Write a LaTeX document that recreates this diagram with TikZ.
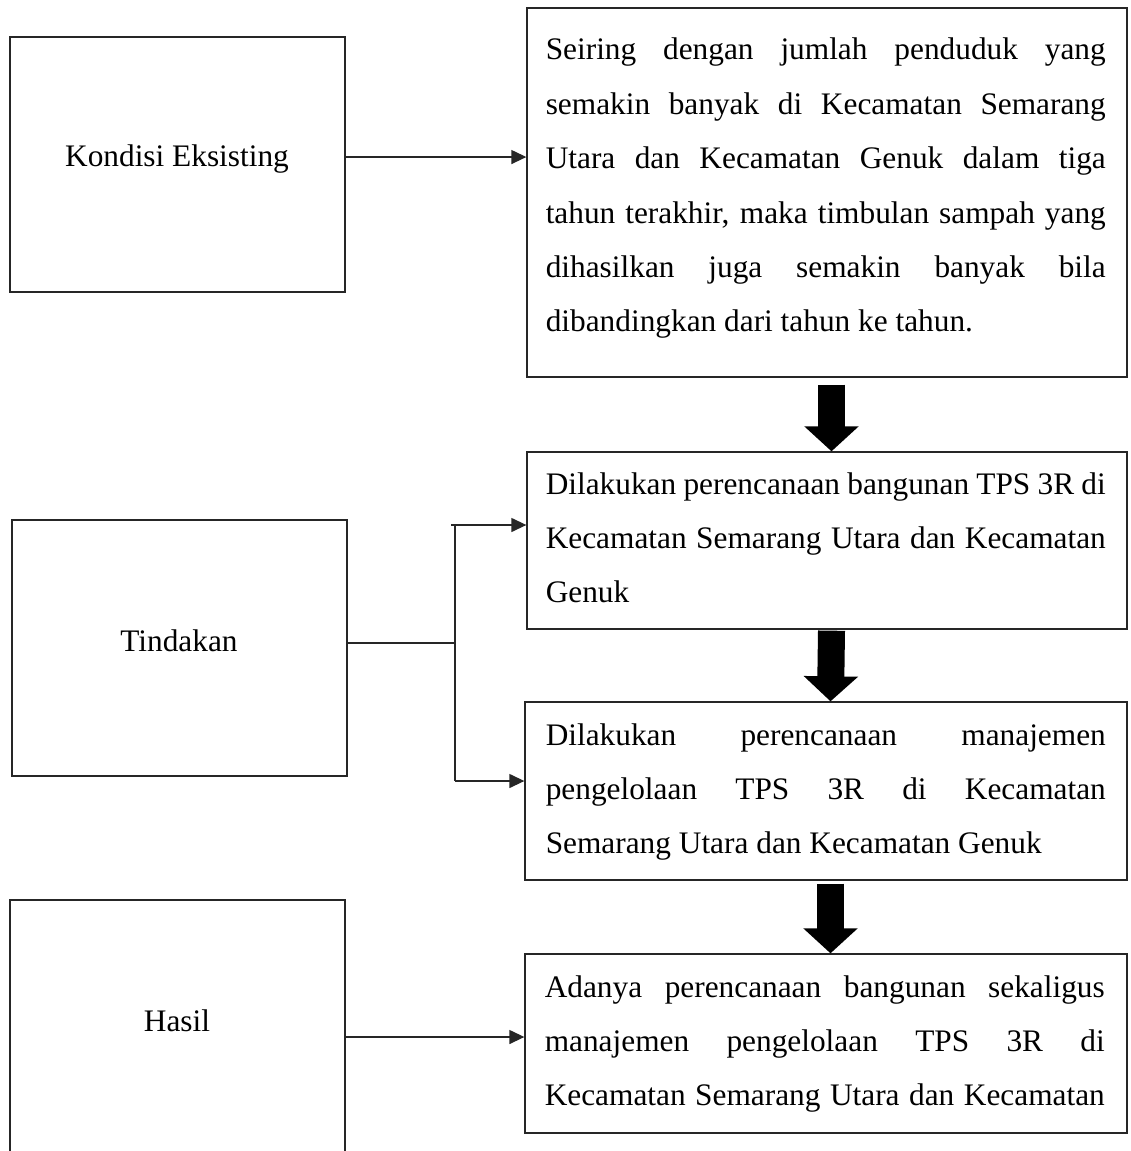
\documentclass[tikz,border=0pt]{standalone}
\usepackage{fontspec}
\setmainfont{Liberation Serif}
\usetikzlibrary{arrows.meta,calc}
\newcommand{\jline}[1]{\makebox[420pt][s]{#1}}
\begin{document}
\begin{tikzpicture}[x=0.75pt,y=-0.75pt,
  box/.style={draw=black!85, line width=1pt, rectangle, inner sep=0pt},
  lbl/.style={font=\fontsize{23.5pt}{28pt}\selectfont, inner sep=0pt, anchor=base},
  txt/.style={inner sep=0pt, anchor=base west, font=\fontsize{23.5pt}{40.8pt}\selectfont},
  conn/.style={draw=black!85, line width=1pt},
  arr/.style={conn, -{Triangle[length=11.25pt,width=10.5pt]}},
  bigarr/.style={draw=black, line width=20.25pt, -{Triangle[length=18.75pt,width=39.75pt]}}]
\useasboundingbox (0,0) rectangle (1130,1151);
\fill[white] (0,0) rectangle (1130,1151);

% left boxes
\node[box, minimum width=251.25pt, minimum height=191.25pt] (l1) at (177.5,164.5) {};
\node[box, minimum width=251.25pt, minimum height=192pt] (l2) at (179.5,648) {};
\node[box, minimum width=251.25pt, minimum height=210pt] (l3) at (177.5,1040) {};
\node[lbl] (k1t) at (177,167) {Kondisi Eksisting};
\node[lbl] (k2t) at (179,651) {Tindakan};
\node[lbl] (k3t) at (177,1031) {Hasil};

% right boxes
\node[box, minimum width=450pt, minimum height=276.75pt] (r1) at (827,192.5) {};
\node[box, minimum width=450pt, minimum height=132.75pt] (r2) at (827,540.5) {};
\node[box, minimum width=451.5pt, minimum height=133.5pt] (r3) at (826,791) {};
\node[box, minimum width=451.5pt, minimum height=134.25pt] (r4) at (826,1043.5) {};

\node[txt] (t1) at (545.5,60) {\parbox[t]{420pt}{%
\jline{Seiring dengan jumlah penduduk yang}\\
\jline{semakin banyak di Kecamatan Semarang}\\
\jline{Utara dan Kecamatan Genuk dalam tiga}\\
\jline{tahun terakhir, maka timbulan sampah yang}\\
\jline{dihasilkan juga semakin banyak bila}\\
dibandingkan dari tahun ke tahun.}};

\node[txt] (t2) at (545.5,494) {\parbox[t]{420pt}{%
\jline{Dilakukan perencanaan bangunan TPS 3R di}\\
\jline{Kecamatan Semarang Utara dan Kecamatan}\\
Genuk}};

\node[txt] (t3) at (545.5,745) {\parbox[t]{420pt}{%
\jline{Dilakukan perencanaan manajemen}\\
\jline{pengelolaan TPS 3R di Kecamatan}\\
Semarang Utara dan Kecamatan Genuk}};

\node[txt] (t4) at (544.5,997) {\parbox[t]{420pt}{%
\jline{Adanya perencanaan bangunan sekaligus}\\
\jline{manajemen pengelolaan TPS 3R di}\\
\jline{Kecamatan Semarang Utara dan Kecamatan}}};

% connectors
\coordinate (c1) at ([yshift=5.6pt]l1.east);
\draw[arr] (c1) -- (c1 -| r1.west);

\coordinate (c2) at ([yshift=3.75pt]l2.east);
\coordinate (bt) at (455,525);
\coordinate (bb) at (455,781);
\draw[conn] (c2) -- (c2 -| bt);
\draw[conn] (bt) -- (bb);
\draw[arr] ([xshift=-3pt]bt) -- (bt -| r2.west);
\draw[arr] (bb) -- (bb -| r3.west);

\coordinate (c3) at ([yshift=2.25pt]l3.east);
\draw[arr] (c3) -- (c3 -| r4.west);

% thick arrows
\draw[bigarr] ([xshift=3.375pt,yshift=-5.25pt]r1.south) -- ([xshift=3.375pt]r2.north);
\draw[bigarr] ([xshift=3.375pt,yshift=-0.75pt]r2.south) -- ([xshift=3.375pt]r3.north);
\draw[bigarr] ([xshift=3.375pt,yshift=-2.25pt]r3.south) -- ([xshift=3.375pt]r4.north);
\end{tikzpicture}
\end{document}
